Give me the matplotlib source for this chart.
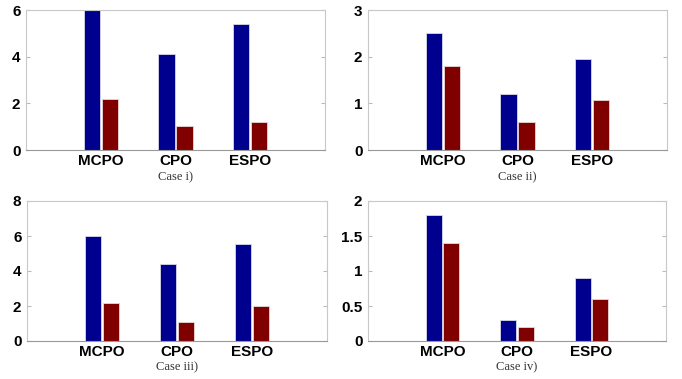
import matplotlib
matplotlib.use("Agg")
import matplotlib.pyplot as plt
import numpy as np

methods = ['MCPO', 'CPO', 'ESPO']
captions = ['Case i)', 'Case ii)', 'Case iii)', 'Case iv)']

# blue series / red series for each case
blue_vals = [
    [6.0, 4.1, 5.4],
    [2.5, 1.2, 1.95],
    [6.0, 4.4, 5.55],
    [1.8, 0.3, 0.9],
]
red_vals = [
    [2.2, 1.05, 1.2],
    [1.8, 0.6, 1.07],
    [2.2, 1.1, 2.0],
    [1.4, 0.2, 0.6],
]
y_max = [6, 3, 8, 2]
y_ticks = [
    [0, 2, 4, 6],
    [0, 1, 2, 3],
    [0, 2, 4, 6, 8],
    [0, 0.5, 1, 1.5, 2],
]
y_labels = [
    ['0', '2', '4', '6'],
    ['0', '1', '2', '3'],
    ['0', '2', '4', '6', '8'],
    ['0', '0.5', '1', '1.5', '2'],
]

# axes rectangles in pixels: left, top, right, bottom
boxes = [(26, 10, 325, 150), (368, 10, 667, 150),
         (27, 201, 327, 341), (368, 201, 666, 341)]
cap_y = [177, 177, 367, 367]

W, H = 682, 379
fig = plt.figure(figsize=(W / 100, H / 100), dpi=100)

x = np.arange(1, len(methods) + 1)
bw = 0.215
off = 0.12

for i in range(4):
    l, t, r, b = boxes[i]
    ax = fig.add_axes([l / W, 1 - b / H, (r - l) / W, (b - t) / H])
    ax.bar(x - off, blue_vals[i], bw, color='#00008f', edgecolor='#d8d8e8', linewidth=0.6)
    ax.bar(x + off, red_vals[i], bw, color='#800000', edgecolor='#e8d8d8', linewidth=0.6)
    ax.set_xlim(0, 4)
    ax.set_ylim(0, y_max[i])
    ax.set_xticks(x)
    ax.set_xticklabels(methods, fontsize=11, fontweight='bold', family='Liberation Sans')
    ax.set_yticks(y_ticks[i])
    ax.set_yticklabels(y_labels[i], fontsize=11, fontweight='bold', family='Liberation Sans')
    ax.tick_params(axis='y', direction='in', length=3, color='#bbbbbb', right=True, pad=4)
    ax.tick_params(axis='x', length=0, pad=3)
    for s in ax.spines.values():
        s.set_color('#c8c8c8')
        s.set_linewidth(0.8)
    ax.spines['bottom'].set_color('#999999')
    cx = (l + r) / 2 / W
    fig.text(cx, 1 - cap_y[i] / H, captions[i], ha='center', va='center',
             fontsize=9, family='Liberation Serif', color='#333333')

fig.savefig('out.png', dpi=100)
